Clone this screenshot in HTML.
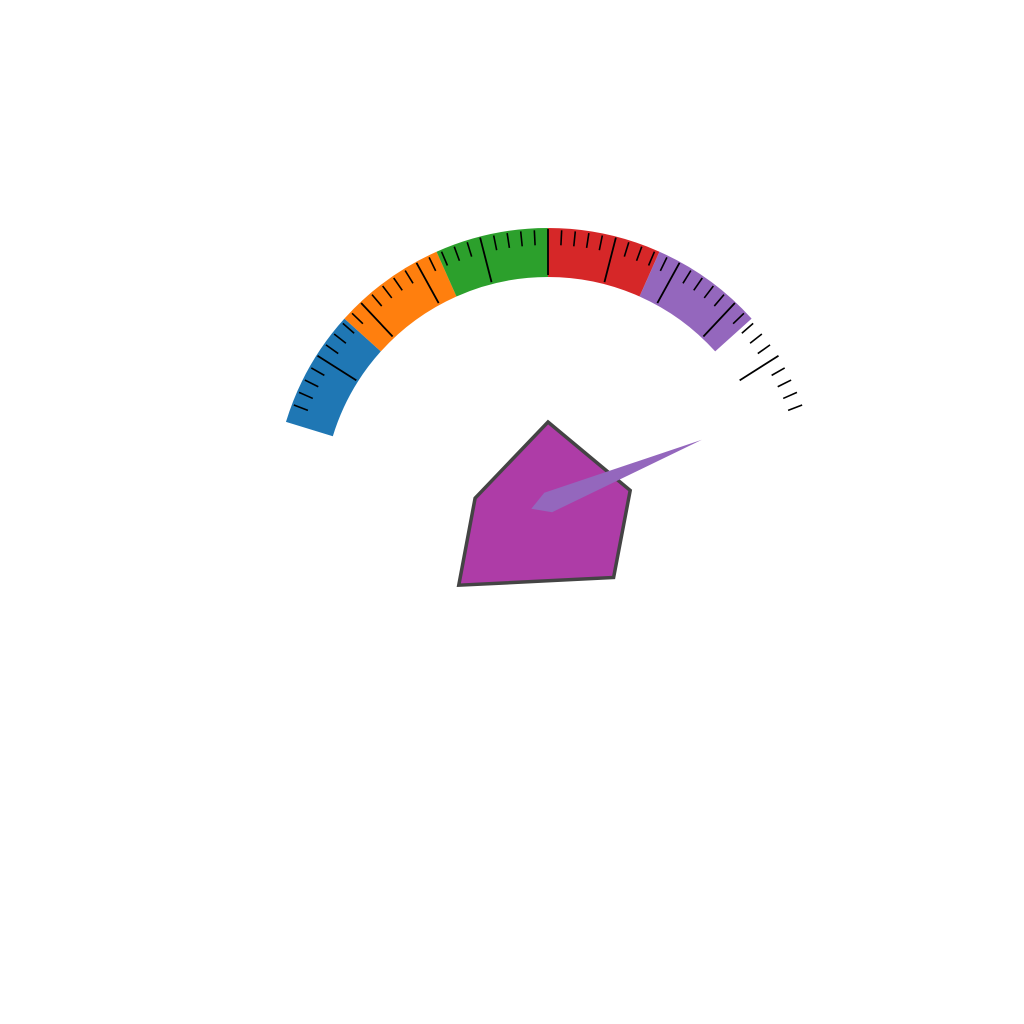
<!DOCTYPE html>
<html><head><meta charset="utf-8"><style>
html,body{margin:0;padding:0;background:#fff;width:1024px;height:1024px;overflow:hidden}
svg{display:block}
</style></head><body>
<svg id="chart" width="1024" height="1024" viewBox="0 0 1024 1024" xmlns="http://www.w3.org/2000/svg">
<g id="bands"></g>
<g id="ticks"></g>
<g id="radar"></g>
<g id="needle"></g>
</svg>
<script>
const bandStarts = [-0.7, 16.67, 33.33, 50, 66.67, 83.33];
const bandEnds = [16.67, 33.33, 50, 66.67, 83.33, 100];
const bandColors = ['#1f77b4', '#ff7f0e', '#2ca02c', '#d62728', '#9467bd', 'none'];
const majorTicks = [0, 10, 20, 30, 40, 50, 60, 70, 80, 90, 100];
const minorPerMajor = 5;
const needleValue = 97.2;
const radarAngles = [90, 8, -49, -137, 177];
const radarRadii = [80, 83, 100, 122, 73];

const NS = 'http://www.w3.org/2000/svg';
const cx = 548, cy = 502, R = 274, r = 225;
const aMin = 162, aMax = 18, vMin = 0, vMax = 100;
function ang(v) { return aMin + (v - vMin) / (vMax - vMin) * (aMax - aMin); }
function pt(a, rad) { const t = a * Math.PI / 180; return [cx + rad * Math.cos(t), cy - rad * Math.sin(t)]; }
function mk(tag, attrs, parent) { const e = document.createElementNS(NS, tag); for (const k in attrs) e.setAttribute(k, attrs[k]); parent.appendChild(e); return e; }

const gb = document.getElementById('bands');
bandStarts.forEach((s, i) => {
  if (bandColors[i] === 'none') return;
  const a1 = ang(s), a2 = ang(bandEnds[i]);
  const p1 = pt(a1, R), p2 = pt(a2, R), p3 = pt(a2, r), p4 = pt(a1, r);
  const d = `M${p1[0]},${p1[1]} A${R},${R} 0 0 1 ${p2[0]},${p2[1]} L${p3[0]},${p3[1]} A${r},${r} 0 0 0 ${p4[0]},${p4[1]} Z`;
  const el = mk('path', { d: d, fill: bandColors[i] }, gb);
  
  
});

const gt = document.getElementById('ticks');
for (let i = 0; i < majorTicks.length; i++) {
  const a = ang(majorTicks[i]);
  if (i > 0 && i < majorTicks.length - 1) {
    const p1 = pt(a, R - 1), p2 = pt(a, r + 2);
    const el = mk('line', { x1: p1[0], y1: p1[1], x2: p2[0], y2: p2[1], stroke: '#000', 'stroke-width': 1.8 }, gt);
    
    
  }
  if (i < majorTicks.length - 1) {
    for (let j = 1; j < minorPerMajor; j++) {
      const v = majorTicks[i] + (majorTicks[i + 1] - majorTicks[i]) * j / minorPerMajor;
      const b = ang(v);
      const q1 = pt(b, R - 2), q2 = pt(b, R - 17);
      const m = mk('line', { x1: q1[0], y1: q1[1], x2: q2[0], y2: q2[1], stroke: '#000', 'stroke-width': 1.6 }, gt);
      
      
    }
  }
}

const gr = document.getElementById('radar');
const rpts = radarAngles.map((a, i) => pt(a, radarRadii[i]).join(',')).join(' ');
const poly = mk('polygon', { points: rpts, fill: '#ae3ca7', stroke: '#444', 'stroke-width': 3.5, 'stroke-linejoin': 'miter' }, gr);



const gn = document.getElementById('needle');
const na = ang(needleValue);
const tip = pt(na, 166), s1 = pt(na + 90, 10), tail = pt(na + 180, 18), s2 = pt(na - 90, 11);
const nd = mk('polygon', { points: [tip, s1, tail, s2].map(p => p.join(',')).join(' '), fill: '#9467bd' }, gn);


</script>
</body></html>
